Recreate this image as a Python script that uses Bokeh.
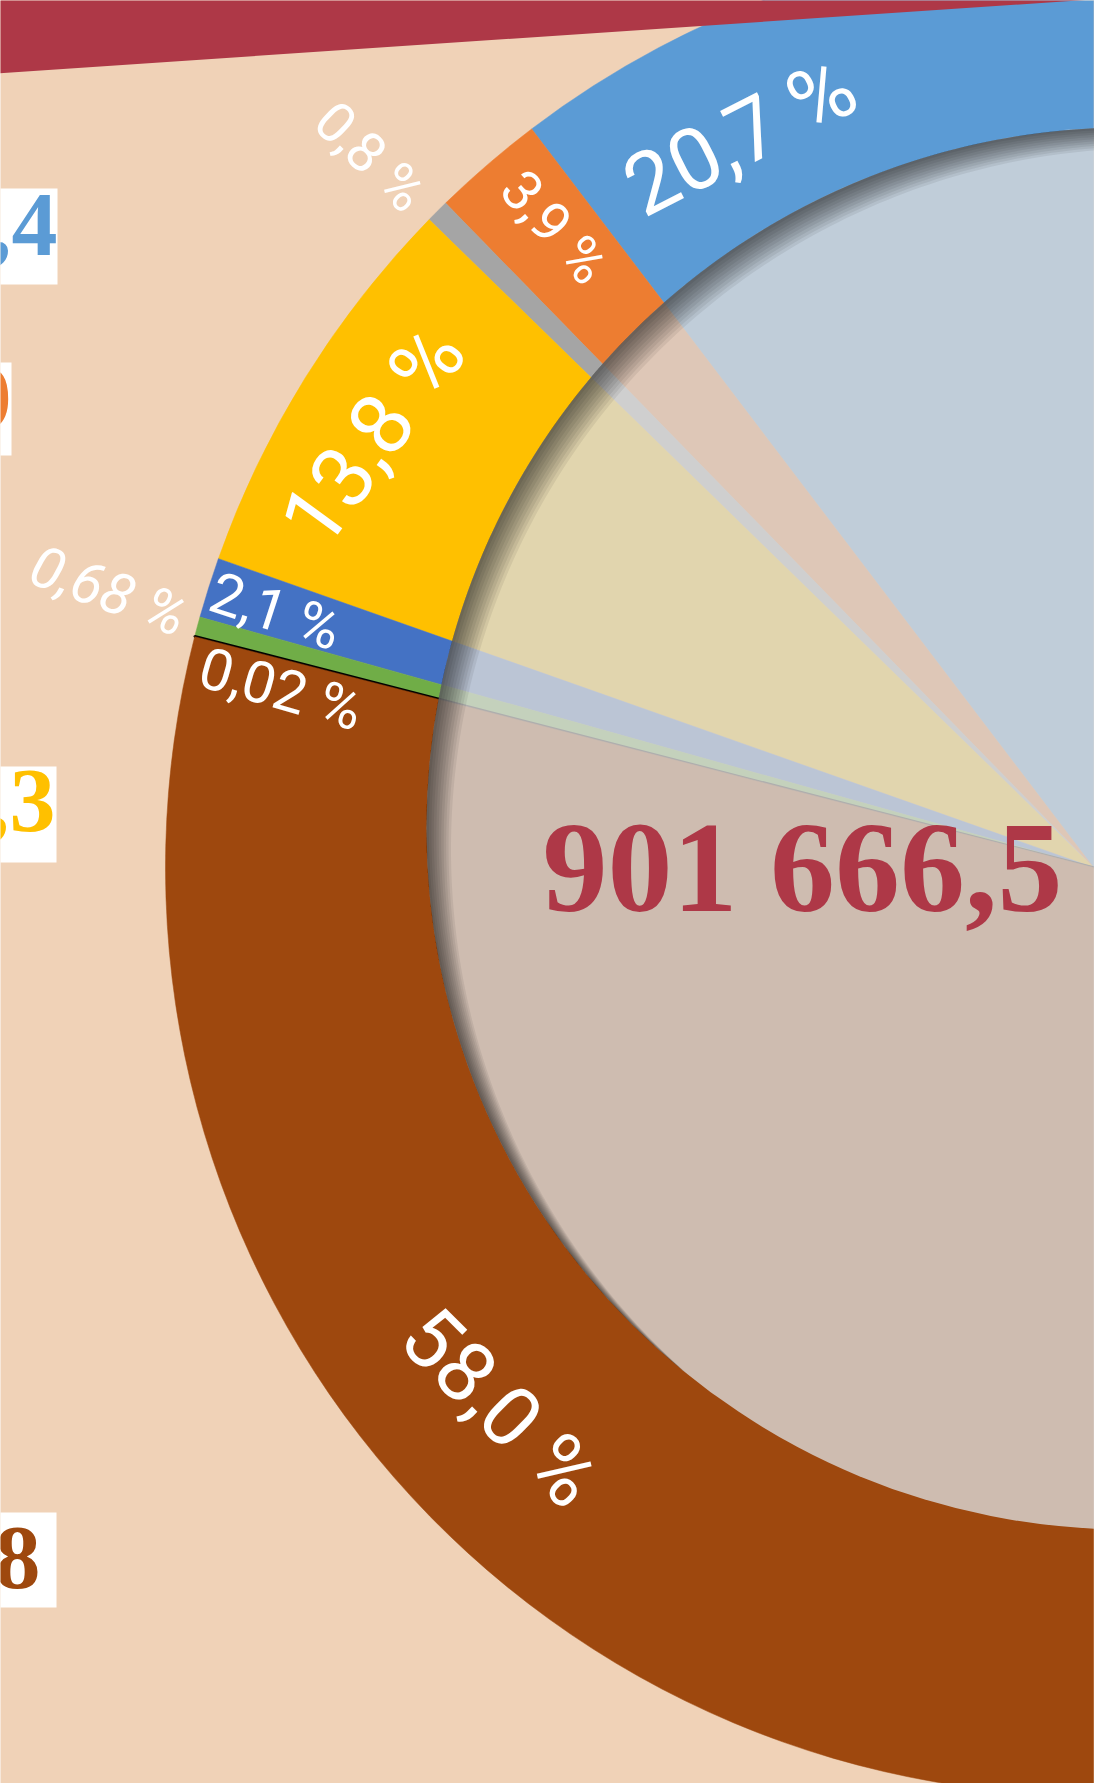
import numpy as np
from bokeh.plotting import figure
from bokeh.models import Range1d, ColumnDataSource
from bokeh.core.properties import value
from bokeh.embed import file_html
from bokeh.resources import INLINE

# ---------------- data ----------------
categories = ["s1", "s2", "s3", "s4", "s5", "s6", "s7", "s8"]
shares = [20.7, 3.9, 0.8, 13.8, 2.1, 0.68, 0.02, 58.0]
share_labels = ["20,7 %", "3,9 %", "0,8 %", "13,8 %", "2,1 %", "0,68 %", "0,02 %", "58,0 %"]
slice_colors = ["#5B9BD5", "#ED7D31", "#A5A5A5", "#FFC000", "#4472C4", "#70AD47", "#000000", "#9E480E"]
total_label = "901 666,5"
legend_tails = [",4", "9", ",3", "8"]
legend_colors = ["#5B9BD5", "#ED7D31", "#FFC000", "#9E480E"]

# ---------------- layout ----------------
IMG_W, IMG_H = 1094, 1783
def Y(y):
    return IMG_H - y

BG = "#F0D2B7"
RED = "#AE3847"
PIE_X, PIE_Y, R_OUT = 1093, Y(867), 928
START_DEG, SPAN_DEG = 90.0, 180.0          # 100 % spans a half circle
DISK_X, DISK_Y, R_DISK = 1127, Y(828), 701

label_r = [812, 837, 1014, 840, 857, 1023, 832, 802]
label_pos_deg = [115.8, 130.1, 135.5, 149.1, 162.6, 164.3, 167.6, 222.3]
label_rot_deg = [27, -48, -44, 54, -18, -20, -16, -45]
label_size = [86, 56, 56, 86, 58, 58, 58, 84]
label_style = ["normal", "normal", "normal", "normal", "normal", "italic", "normal", "normal"]

legend_box_right = [57, 11, 56, 56]
legend_box_top = [188, 362, 766, 1512]
legend_box_bottom = [284, 455, 862, 1607]
legend_text_right = [57, 11, 55, 40]
legend_text_mid = [224, 398, 800, 1557]

p = figure(width=IMG_W, height=IMG_H, x_range=Range1d(0, IMG_W), y_range=Range1d(0, IMG_H),
           x_axis_type=None, y_axis_type=None, toolbar_location=None,
           output_backend="svg", min_border=0, outline_line_color=None,
           background_fill_color=BG, border_fill_color=BG)
p.grid.visible = False

# legend fragments (white boxes, cropped at left)
p.quad(left=[-60] * 4, right=legend_box_right,
       top=[Y(t) for t in legend_box_top], bottom=[Y(b) for b in legend_box_bottom],
       fill_color="white", line_color=None)
for i, t in enumerate(legend_tails):
    p.text(x=[legend_text_right[i]], y=[Y(legend_text_mid[i])], text=[t],
           text_color=legend_colors[i], text_font=value("Liberation Serif"),
           text_font_style="bold", text_font_size="92px",
           text_align="right", text_baseline="middle")

# pie (half circle)
bounds = START_DEG + SPAN_DEG / 100.0 * np.concatenate([[0.0], np.cumsum(shares)])
src = ColumnDataSource(dict(
    cat=categories,
    start=np.radians(bounds[:-1]),
    end=np.radians(bounds[1:]),
    color=slice_colors,
    lw=[0.5 if c != "#000000" else 2.5 for c in slice_colors],
))
p.wedge(x=PIE_X, y=PIE_Y, radius=R_OUT, start_angle="start", end_angle="end",
        direction="anticlock", fill_color="color", line_color="color",
        line_width="lw", source=src)

# translucent inner disk
p.circle(x=[DISK_X], y=[DISK_Y], radius=R_DISK, fill_color="#D9D9D9",
         fill_alpha=0.8, line_color=None)

# inner shadow (stacked crescents, offset down-right)
def crescent(cx, cy, r, d, dir_deg, n=240):
    th = np.radians(dir_deg)
    beta = np.arccos(d / (2.0 * r))
    a = np.linspace(th + beta, th + 2 * np.pi - beta, n)
    b = np.linspace(th + np.pi + beta, th + np.pi - beta, n)
    sx, sy = cx + d * np.cos(th), cy + d * np.sin(th)
    xs = np.concatenate([cx + r * np.cos(a), sx + r * np.cos(b)])
    ys = np.concatenate([cy + r * np.sin(a), sy + r * np.sin(b)])
    return list(xs), list(ys)

sh_x, sh_y = [], []
for k in range(1, 11):
    xs, ys = crescent(DISK_X, DISK_Y, R_DISK, 3.2 * k, -40)
    sh_x.append(xs)
    sh_y.append(ys)
p.patches(xs=sh_x, ys=sh_y, fill_color="black", fill_alpha=0.065, line_color=None)

# slice labels
for i, t in enumerate(share_labels):
    a = np.radians(label_pos_deg[i])
    p.text(x=[PIE_X + label_r[i] * np.cos(a)], y=[PIE_Y + label_r[i] * np.sin(a)],
           text=[t], angle=np.radians(label_rot_deg[i]), text_color="white",
           text_font=value("Roboto"), text_font_style=label_style[i],
           text_font_size=f"{label_size[i]}px", text_align="center",
           text_baseline="middle")

# total
p.text(x=[802], y=[Y(866)], text=[total_label], text_color=RED,
       text_font=value("Liberation Serif"), text_font_style="bold",
       text_font_size="130px", text_align="center", text_baseline="middle")

# red header band (slanted)
band_x = [-20, 1120, 1120, -20]
band_y = [Y(-20), Y(-20), Y(-2.9), Y(74.0)]
p.patch(band_x, band_y, fill_color=RED, line_color=None)

open("out.html", "w").write(file_html(p, INLINE))
